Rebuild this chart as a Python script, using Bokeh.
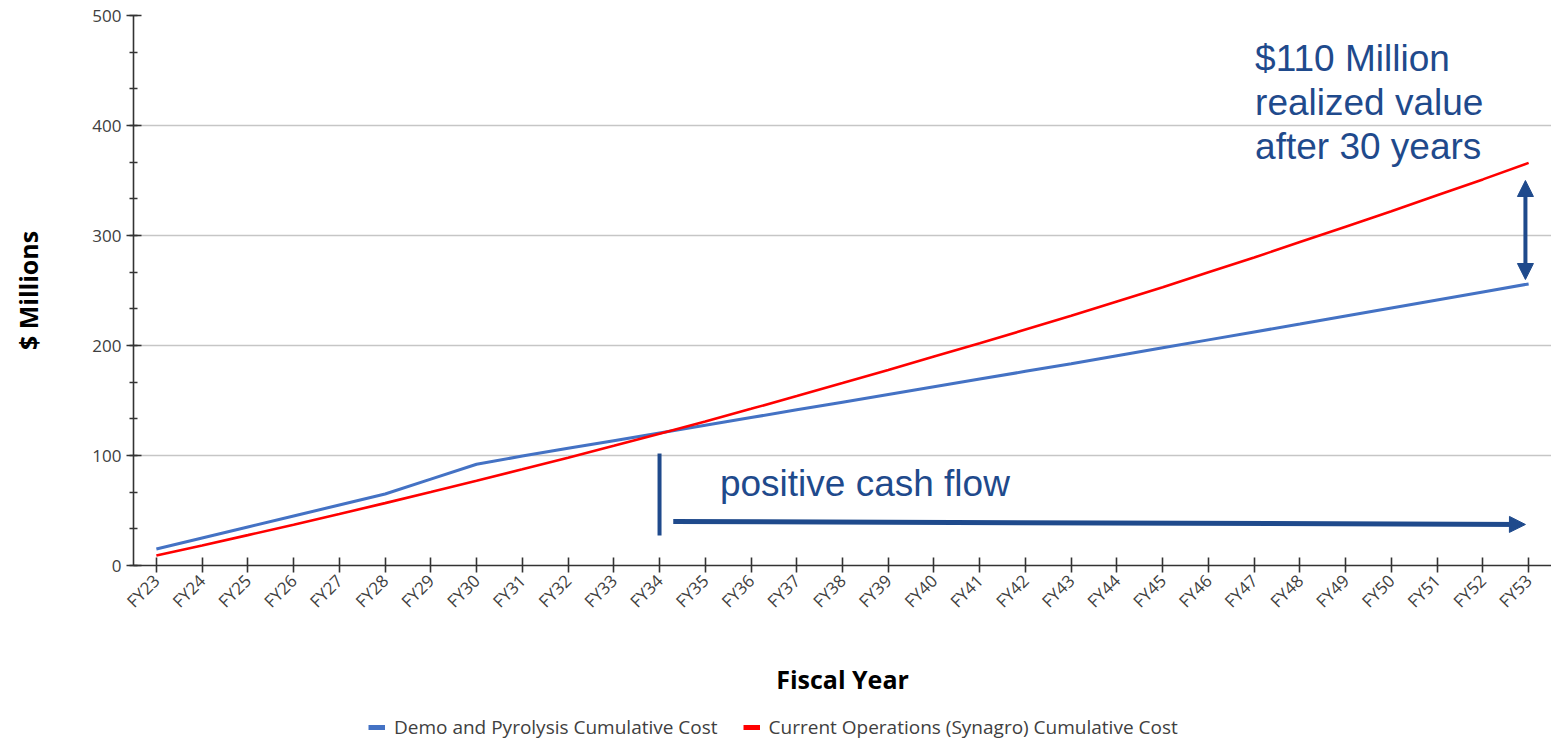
import math
from bokeh.plotting import figure
from bokeh.layouts import column
from bokeh.models import (Range1d, FixedTicker, SingleIntervalTicker, Legend, LegendItem,
                          Arrow, NormalHead, Label)
from bokeh.embed import file_html
from bokeh.resources import INLINE

years = ["FY23", "FY24", "FY25", "FY26", "FY27", "FY28", "FY29", "FY30", "FY31", "FY32",
         "FY33", "FY34", "FY35", "FY36", "FY37", "FY38", "FY39", "FY40", "FY41", "FY42",
         "FY43", "FY44", "FY45", "FY46", "FY47", "FY48", "FY49", "FY50", "FY51", "FY52", "FY53"]

demo_cost = [15, 25, 35, 45, 55, 65, 78.5, 92, 99.5, 106.5,
             113.5, 120.5, 127.5, 134.5, 141.5, 148.5, 155.5, 162.5, 169.5, 176.5,
             183.5, 190.7, 197.9, 205.1, 212.3, 219.5, 226.8, 234.1, 241.4, 248.7, 256]

current_cost = [9, 18.2, 27.6, 37.1, 46.8, 56.7, 66.8, 77.0, 87.4, 98.0,
                108.8, 119.8, 131.0, 142.4, 154.0, 165.8, 177.8, 190.0, 202.0, 214.5,
                227, 240, 253, 266.5, 280, 294, 308, 322, 336.5, 351, 366]

series_labels = ["Demo and Pyrolysis Cumulative Cost",
                 "Current Operations (Synagro) Cumulative Cost"]
series_colors = ["#4472c4", "#ff0000"]

y_ticks = [0, 100, 200, 300, 400, 500]

idx = list(range(len(years)))
NAVY = "#1f4a8c"
TICK_COLOR = "#404040"

p = figure(width=1551, height=708, output_backend="svg", toolbar_location=None,
           x_range=Range1d(-0.5, len(years) - 0.5), y_range=Range1d(0, 500),
           min_border_left=133, min_border_right=0, min_border_top=15, min_border_bottom=143)
p.outline_line_color = None
p.background_fill_color = "white"
p.border_fill_color = "white"

p.line(idx, demo_cost, line_color=series_colors[0], line_width=3)
p.line(idx, current_cost, line_color=series_colors[1], line_width=2.6)

# axes
p.xaxis.ticker = FixedTicker(ticks=idx)
p.xaxis.major_label_overrides = {i: y for i, y in enumerate(years)}
p.xaxis.major_label_orientation = math.pi / 4
p.xaxis.minor_tick_line_color = None
p.yaxis.ticker = SingleIntervalTicker(interval=100, num_minor_ticks=3)

for ax in (p.xaxis[0], p.yaxis[0]):
    ax.axis_line_color = "#333333"
    ax.axis_line_width = 1.6
    ax.major_tick_line_color = "#333333"
    ax.major_tick_line_width = 1.6
    ax.major_tick_in = 8
    ax.major_tick_out = 7
    ax.major_label_text_font = "Open Sans"
    ax.major_label_text_color = TICK_COLOR
    ax.axis_label_text_font = "Open Sans"
    ax.axis_label_text_font_style = "bold"
    ax.axis_label_text_color = "#000000"
    ax.axis_label_text_font_size = "25px"

p.yaxis.minor_tick_line_color = "#333333"
p.yaxis.minor_tick_line_width = 1.6
p.yaxis.minor_tick_in = 4
p.yaxis.minor_tick_out = 4
p.yaxis.major_label_text_font_size = "17px"
p.xaxis.major_label_text_font_size = "17px"

p.xaxis.axis_label = "Fiscal Year"
p.yaxis.axis_label = "$ Millions"
p.xaxis.axis_label_standoff = 39
p.yaxis.axis_label_standoff = 44

p.xgrid.grid_line_color = None
p.ygrid.grid_line_color = "#c6c6c6"
p.ygrid.grid_line_width = 1.5
p.ygrid.ticker = FixedTicker(ticks=y_ticks)

# annotations
p.segment(x0=[11.0], y0=[27.3], x1=[11.0], y1=[101.8], line_color=NAVY, line_width=4)
p.add_layout(Arrow(end=NormalHead(size=16, fill_color=NAVY, line_color=NAVY),
                   x_start=11.3, y_start=40.0, x_end=29.93, y_end=37.3,
                   line_color=NAVY, line_width=5))
p.add_layout(Arrow(start=NormalHead(size=16, fill_color=NAVY, line_color=NAVY),
                   end=NormalHead(size=16, fill_color=NAVY, line_color=NAVY),
                   x_start=29.93, y_start=260, x_end=29.93, y_end=350,
                   line_color=NAVY, line_width=4))

p.add_layout(Label(x=12.32, y=75, text="positive cash flow", text_font="Liberation Sans",
                   text_font_size="37px", text_color=NAVY, text_baseline="alphabetic"))
for txt, yy in (("$110 Million", 460.5), ("realized value", 421.1), ("after 30 years", 381.1)):
    p.add_layout(Label(x=24.02, y=yy, text=txt, text_font="Liberation Sans",
                       text_font_size="37px", text_color=NAVY, text_baseline="alphabetic"))

# legend strip below the chart
lf = figure(width=1551, height=32, output_backend="svg", toolbar_location=None,
            x_range=Range1d(0, 1), y_range=Range1d(0, 1),
            x_axis_type=None, y_axis_type=None,
            min_border_left=0, min_border_right=0, min_border_top=0, min_border_bottom=0)
lf.outline_line_color = None
lf.xgrid.grid_line_color = None
lf.ygrid.grid_line_color = None
# key renderers sit outside the visible range; only their legend glyphs show
k1 = lf.line([2, 3], [2, 3], line_color=series_colors[0], line_width=5)
k2 = lf.line([2, 3], [2, 3], line_color=series_colors[1], line_width=5)

legend = Legend(items=[LegendItem(label=series_labels[0], renderers=[k1]),
                       LegendItem(label=series_labels[1], renderers=[k2])],
                orientation="horizontal", location=(235, 0), padding=0, margin=0,
                spacing=25, label_standoff=9, glyph_width=17, glyph_height=16,
                label_text_font="Open Sans", label_text_font_size="19px",
                label_text_color=TICK_COLOR, border_line_color=None,
                background_fill_alpha=0)
lf.add_layout(legend, "center")

open("out.html", "w").write(file_html(column(p, lf), INLINE))
